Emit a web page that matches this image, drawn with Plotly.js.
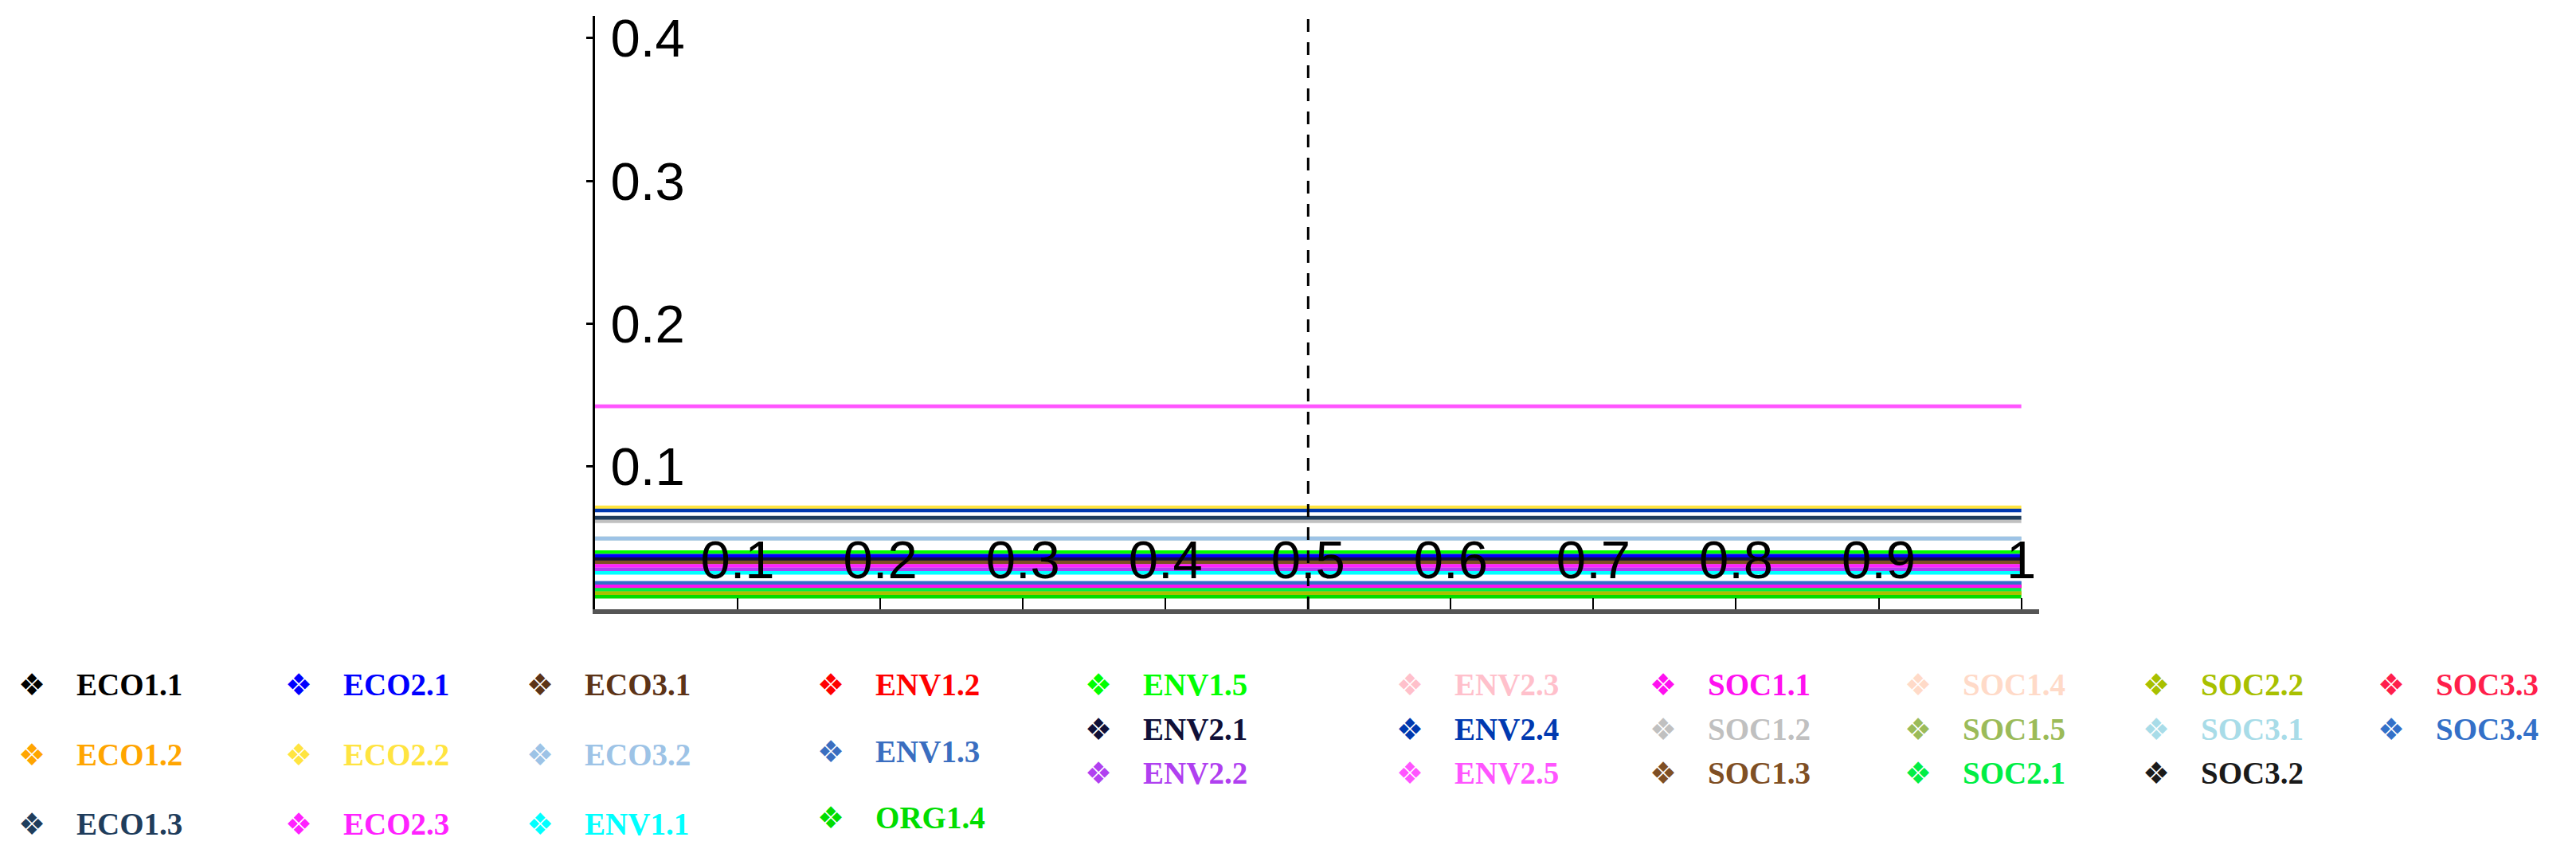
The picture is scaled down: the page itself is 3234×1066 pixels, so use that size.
<!DOCTYPE html>
<html>
<head>
<meta charset="utf-8">
<script src="https://cdn.plot.ly/plotly-3.0.1.min.js"></script>
<style>body{margin:0;background:#fff}</style>
</head>
<body>
<div id="chart" style="width:3234px;height:1066px"></div>
<script>
// every indicator is a flat line over the whole x range
const xSpan = [0, 1];
const refLine = 0.5;

// draw order: the lines that end up covered come first
const names = ["ECO1.1","SOC3.2","ECO1.2","SOC1.5","ENV1.2","SOC3.3","ENV2.3","SOC1.4","SOC3.1","ENV1.3","ECO3.1",
  "SOC1.2","ENV2.5","ECO2.2","ENV2.4","ECO1.3","ECO3.2","ENV1.5","ECO2.1","ENV2.1","SOC1.3","ECO2.3","ENV2.2",
  "ENV1.1","SOC3.4","SOC1.1","SOC2.1","SOC2.2","ORG1.4"];
const weights = [0.0351, 0.0351, 0.0112, 0.0112, 0.0160, 0.0160, 0.0304, 0.0496, 0.0496, 0.0184, 0.0329,
  0.0617, 0.1422, 0.0714, 0.0692, 0.0641, 0.0496, 0.0400, 0.0375, 0.0351, 0.0329, 0.0304, 0.0279,
  0.0255, 0.0184, 0.0160, 0.0137, 0.0112, 0.0088];
const colors = ["#000000","#1a1a1a","#FFA500","#9BBB59","#FF0000","#FF1F4B","#FFC0CB","#FFDAC8","#A8DCE8","#3A6EC0","#5C3317",
  "#C0C0C0","#FF55FF","#FFE440","#0039B0","#1F3D5C","#9DC3E6","#00FF00","#0000FF","#101038","#7F4F24","#FF22FF","#B040F0",
  "#00FFFF","#3370C8","#FF10F0","#00EE44","#A8C000","#00DD00"];

// legend columns, top to bottom
const legendCols = [
  ["ECO1.1","ECO1.2","ECO1.3"],
  ["ECO2.1","ECO2.2","ECO2.3"],
  ["ECO3.1","ECO3.2","ENV1.1"],
  ["ENV1.2","ENV1.3","ORG1.4"],
  ["ENV1.5","ENV2.1","ENV2.2"],
  ["ENV2.3","ENV2.4","ENV2.5"],
  ["SOC1.1","SOC1.2","SOC1.3"],
  ["SOC1.4","SOC1.5","SOC2.1"],
  ["SOC2.2","SOC3.1","SOC3.2"],
  ["SOC3.3","SOC3.4"]
];

const xTicks = [0.1,0.2,0.3,0.4,0.5,0.6,0.7,0.8,0.9,1];
const xTickText = ["0.1","0.2","0.3","0.4","0.5","0.6","0.7","0.8","0.9","1"];
const yTicks = [0.1,0.2,0.3,0.4];
const yTickText = ["0.1","0.2","0.3","0.4"];

// page geometry
const W = 3234, H = 1066;
const M = {l: 747, r: 674, t: 20, b: 301};
const plotW = W - M.l - M.r, plotH = H - M.t - M.b;
const toPaperX = px => (px - M.l) / plotW;
const toPaperY = py => (H - M.b - py) / plotH;
const glyphCenters = [40, 375, 678, 1043, 1379, 1770, 2088, 2408, 2707, 3002];
const colGaps = [34, 34, 34, 30, 2, 2, 2, 2, 2, 2];
const tickFont = {family: "Liberation Sans Narrow, Arial Narrow, Liberation Sans, sans-serif", size: 67, color: "#000"};

var data = names.map(function(n, i) {
  return {
    x: xSpan,
    y: [weights[i], weights[i]],
    type: "scatter",
    mode: "lines",
    name: n,
    showlegend: false,
    hoverinfo: "skip",
    line: {color: colors[i], width: 4.6}
  };
});

const colorOf = {};
names.forEach((n, i) => colorOf[n] = colors[i]);
const nb = "\u00A0";

legendCols.forEach(function(col, c) {
  col.forEach(function(n) {
    data.push({
      x: [null], y: [null],
      type: "scatter", mode: "markers",
      marker: {color: "rgba(0,0,0,0)", size: 2},
      name: '<span style="color:' + colorOf[n] + '"><span style="font-family:DejaVu Sans;font-weight:normal;font-size:38px">\u2756</span>' + nb.repeat(4) + n + '</span>',
      legend: c === 0 ? "legend" : "legend" + (c + 1),
      legendgroup: n,
      showlegend: true,
      hoverinfo: "skip"
    });
  });
});

var layout = {
  width: W, height: H,
  margin: {l: M.l, r: M.r, t: M.t, b: M.b, pad: 0, autoexpand: false},
  paper_bgcolor: "#fff",
  plot_bgcolor: "#fff",
  xaxis: {
    range: [0, 1.0125],
    tickvals: xTicks, ticktext: xTickText,
    ticks: "inside", ticklen: 14, tickwidth: 2, tickcolor: "#000",
    showline: true, linecolor: "#555", linewidth: 6,
    showgrid: false, zeroline: false,
    ticklabelposition: "inside",
    ticklabelstandoff: 22,
    ticklabeloverflow: "allow",
    tickfont: tickFont
  },
  yaxis: {
    range: [0, 0.4156],
    tickvals: yTicks, ticktext: yTickText,
    ticks: "outside", ticklen: 8, tickwidth: 3, tickcolor: "#000",
    showline: true, linecolor: "#000", linewidth: 3,
    showgrid: false, zeroline: false,
    ticklabelposition: "inside",
    ticklabelstandoff: 30,
    ticklabeloverflow: "allow",
    tickfont: tickFont
  },
  shapes: [{
    type: "line", xref: "x", yref: "paper",
    x0: refLine, x1: refLine, y0: 0, y1: 1,
    line: {color: "#000", width: 3, dash: "16px,13px"},
    layer: "above"
  }]
};

legendCols.forEach(function(col, c) {
  const key = c === 0 ? "legend" : "legend" + (c + 1);
  layout[key] = {
    x: toPaperX(glyphCenters[c] - 57),
    y: toPaperY(826),
    xanchor: "left", yanchor: "top",
    orientation: "v",
    traceorder: "grouped",
    tracegroupgap: colGaps[c],
    itemwidth: 30,
    bgcolor: "rgba(0,0,0,0)",
    borderwidth: 0,
    font: {family: "Liberation Serif, Times New Roman, serif", size: 39, weight: 700, color: "#000"},
    itemclick: false, itemdoubleclick: false
  };
});

Plotly.newPlot("chart", data, layout, {displayModeBar: false, staticPlot: true});
</script>
</body>
</html>
